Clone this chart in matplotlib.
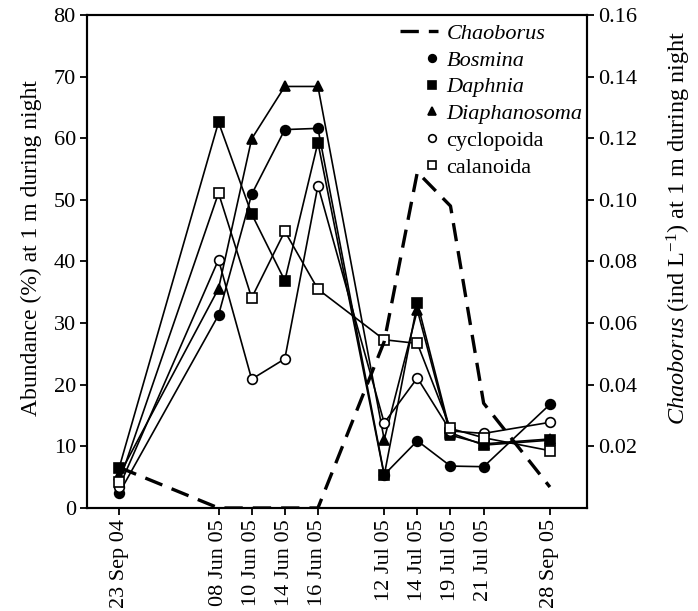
import numpy as np
import matplotlib
matplotlib.use('Agg')
import matplotlib.pyplot as plt
from matplotlib.legend_handler import HandlerLine2D
from matplotlib.lines import Line2D

plt.rcParams['font.family'] = 'Liberation Serif'
plt.rcParams['mathtext.fontset'] = 'custom'
plt.rcParams['mathtext.rm'] = 'Liberation Serif'
plt.rcParams['mathtext.it'] = 'Liberation Serif:italic'

# sampling dates (categorical axis with gaps)
dates = ['23 Sep 04', '08 Jun 05', '10 Jun 05', '14 Jun 05', '16 Jun 05',
         '12 Jul 05', '14 Jul 05', '19 Jul 05', '21 Jul 05', '28 Sep 05']
x_pos = [0, 3, 4, 5, 6, 8, 9, 10, 11, 13]

# abundance (%) at 1 m during night
bosmina = [2.4, 31.3, 50.9, 61.4, 61.6, 5.4, 10.9, 6.8, 6.7, 16.8]
daphnia = [6.5, 62.6, 47.7, 36.9, 59.3, 5.3, 33.3, 12.2, 10.2, 11.0]
diaphanosoma = [5.3, 35.6, 59.9, 68.4, 68.4, 11.1, 32.1, 11.8, 10.4, 11.2]
cyclopoida = [3.4, 40.3, 20.9, 24.2, 52.3, 13.8, 21.1, 12.5, 12.1, 13.9]
calanoida = [4.2, 51.1, 34.1, 44.9, 35.5, 27.3, 26.7, 12.9, 11.4, 9.3]

# Chaoborus density (ind/L)
chaoborus = [0.0132, 0.0, 0.0, 0.0, 0.0, 0.054, 0.109, 0.098, 0.034, 0.0068]

DASH = (0, (5.5, 3.0))


class MarkerRight(HandlerLine2D):
    # single legend marker sits near the right end of the handle
    def get_xdata(self, legend, xdescent, ydescent, width, height, fontsize):
        xdata = [-xdescent + 0.7 * width, -xdescent + width]
        return xdata, [-xdescent + 0.85 * width]


fig = plt.figure(figsize=(6.98, 6.11), dpi=100)
ax = fig.add_axes([0.1246, 0.1686, 0.7164, 0.8069])
ax2 = ax.twinx()

series = [
    ('Bosmina', bosmina, 'o', 'black'),
    ('Daphnia', daphnia, 's', 'black'),
    ('Diaphanosoma', diaphanosoma, '^', 'black'),
    ('cyclopoida', cyclopoida, 'o', 'white'),
    ('calanoida', calanoida, 's', 'white'),
]
for name, vals, mk, fc in series:
    ax.plot(x_pos, vals, color='black', lw=1.2, marker=mk, ms=7,
            mfc=fc, mec='black', mew=1.2, zorder=3)

ax2.plot(x_pos, chaoborus, color='black', lw=2.4, ls=DASH)

ax.set_xlim(-0.97, 14.12)
ax.set_ylim(0, 80)
ax2.set_ylim(0, 0.16)
ax.set_yticks(np.arange(0, 81, 10))
ax2.set_yticks([0.02, 0.04, 0.06, 0.08, 0.10, 0.12, 0.14, 0.16])
ax2.set_yticklabels(['0.02', '0.04', '0.06', '0.08', '0.10', '0.12', '0.14', '0.16'])
ax.set_xticks(x_pos)
ax.set_xticklabels(dates, rotation=90)

for a in (ax, ax2):
    for s in a.spines.values():
        s.set_linewidth(1.5)
    a.tick_params(direction='out', length=5, width=1.3, labelsize=16, pad=3)

ax.set_ylabel('Abundance (%) at 1 m during night', fontsize=17)
ax.yaxis.set_label_coords(-0.09, 0.527)
ax2.set_ylabel(r'$\mathit{Chaoborus}$ (ind L$^{\mathregular{-1}}$) at 1 m during night',
               fontsize=17.5)
ax2.yaxis.set_label_coords(1.156, 0.568)

handles = [Line2D([], [], color='black', lw=2.4, ls=DASH)]
labels = ['Chaoborus']
for name, vals, mk, fc in series:
    handles.append(Line2D([], [], ls='none', marker=mk, ms=5.5, mfc=fc,
                          mec='black', mew=1.2))
    labels.append(name)

leg = ax2.legend(handles, labels, loc='upper right', bbox_to_anchor=(1.0, 0.992),
                 frameon=False, fontsize=16, handlelength=1.7, handletextpad=0.4,
                 labelspacing=0.28, borderaxespad=0.1, borderpad=0.1,
                 handler_map={h: MarkerRight() for h in handles[1:]})
for t in leg.get_texts()[:4]:
    t.set_fontstyle('italic')

fig.savefig('out.png', dpi=100)
